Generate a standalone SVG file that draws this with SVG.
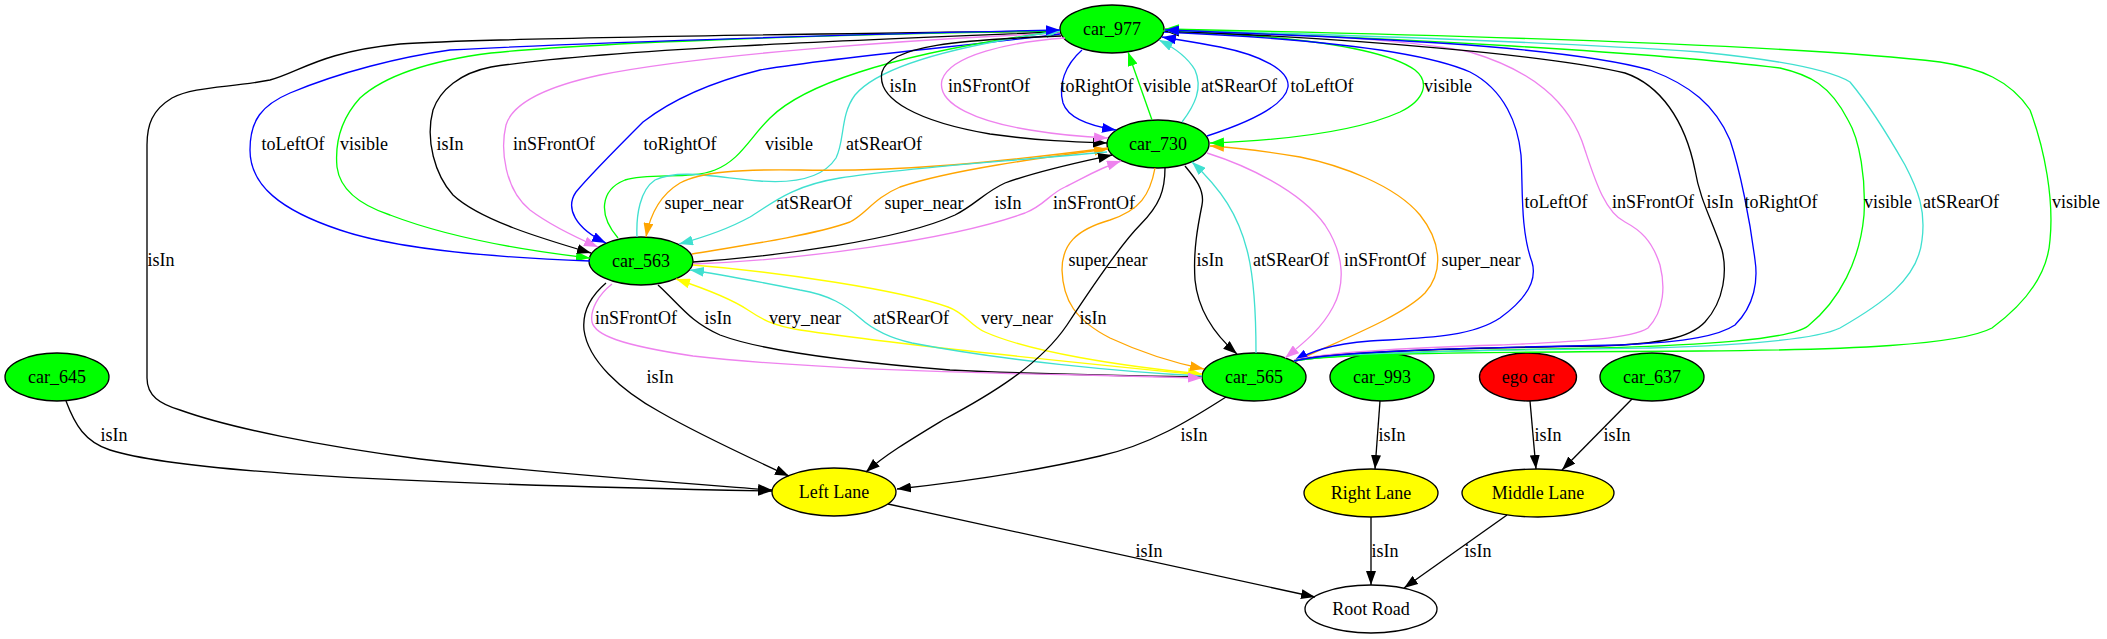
<svg xmlns="http://www.w3.org/2000/svg" width="2107" height="639" viewBox="0 0 2107 639">
<style>
.n ellipse{stroke:#000;stroke-width:1.33}
.gr{fill:#00ff00}.rd{fill:#ff0000}.yl{fill:#ffff00}.wh{fill:#fff}
text{font-family:"Liberation Serif","Times New Roman",serif;font-size:18px;text-anchor:middle;fill:#000}
.e path{fill:none;stroke-width:1.33}
.k{stroke:#000;marker-end:url(#ak)}
.b{stroke:#0000ff;marker-end:url(#ab)}
.g{stroke:#00ff00;marker-end:url(#ag)}
.v{stroke:#ee82ee;marker-end:url(#av)}
.c{stroke:#40e0d0;marker-end:url(#ac)}
.o{stroke:#ffa500;marker-end:url(#ao)}
.y{stroke:#ffff00;marker-end:url(#ay)}
</style>
<defs>
<marker id="ak" viewBox="0 0 14 10" refX="14" refY="5" markerWidth="14" markerHeight="10" markerUnits="userSpaceOnUse" orient="auto"><path d="M0,0L14,5L0,10z" fill="#000"/></marker>
<marker id="ab" viewBox="0 0 14 10" refX="14" refY="5" markerWidth="14" markerHeight="10" markerUnits="userSpaceOnUse" orient="auto"><path d="M0,0L14,5L0,10z" fill="#0000ff"/></marker>
<marker id="ag" viewBox="0 0 14 10" refX="14" refY="5" markerWidth="14" markerHeight="10" markerUnits="userSpaceOnUse" orient="auto"><path d="M0,0L14,5L0,10z" fill="#00ff00"/></marker>
<marker id="av" viewBox="0 0 14 10" refX="14" refY="5" markerWidth="14" markerHeight="10" markerUnits="userSpaceOnUse" orient="auto"><path d="M0,0L14,5L0,10z" fill="#ee82ee"/></marker>
<marker id="ac" viewBox="0 0 14 10" refX="14" refY="5" markerWidth="14" markerHeight="10" markerUnits="userSpaceOnUse" orient="auto"><path d="M0,0L14,5L0,10z" fill="#40e0d0"/></marker>
<marker id="ao" viewBox="0 0 14 10" refX="14" refY="5" markerWidth="14" markerHeight="10" markerUnits="userSpaceOnUse" orient="auto"><path d="M0,0L14,5L0,10z" fill="#ffa500"/></marker>
<marker id="ay" viewBox="0 0 14 10" refX="14" refY="5" markerWidth="14" markerHeight="10" markerUnits="userSpaceOnUse" orient="auto"><path d="M0,0L14,5L0,10z" fill="#ffff00"/></marker>
</defs>
<rect width="2107" height="639" fill="#fff"/>
<g id="nodes">
<g id="node-car_977" class="n"><ellipse class="gr" cx="1112" cy="29" rx="52" ry="24"/><text x="1112" y="35">car_977</text></g>
<g id="node-car_730" class="n"><ellipse class="gr" cx="1158" cy="144" rx="51" ry="24"/><text x="1158" y="150">car_730</text></g>
<g id="node-car_563" class="n"><ellipse class="gr" cx="641" cy="261" rx="52" ry="24"/><text x="641" y="267">car_563</text></g>
<g id="node-car_565" class="n"><ellipse class="gr" cx="1254" cy="377" rx="52" ry="24"/><text x="1254" y="383">car_565</text></g>
<g id="node-car_993" class="n"><ellipse class="gr" cx="1382" cy="377" rx="52" ry="24"/><text x="1382" y="383">car_993</text></g>
<g id="node-ego_car" class="n"><ellipse class="rd" cx="1528" cy="377" rx="48.5" ry="24"/><text x="1528" y="383">ego car</text></g>
<g id="node-car_637" class="n"><ellipse class="gr" cx="1652" cy="377" rx="52" ry="24"/><text x="1652" y="383">car_637</text></g>
<g id="node-car_645" class="n"><ellipse class="gr" cx="57" cy="377" rx="52" ry="24"/><text x="57" y="383">car_645</text></g>
<g id="node-left_lane" class="n"><ellipse class="yl" cx="834" cy="492" rx="62" ry="24"/><text x="834" y="498">Left Lane</text></g>
<g id="node-right_lane" class="n"><ellipse class="yl" cx="1371" cy="493" rx="67" ry="24"/><text x="1371" y="499">Right Lane</text></g>
<g id="node-middle_lane" class="n"><ellipse class="yl" cx="1538" cy="493" rx="76" ry="24"/><text x="1538" y="499">Middle Lane</text></g>
<g id="node-root_road" class="n"><ellipse class="wh" cx="1371" cy="609" rx="66" ry="24"/><text x="1371" y="615">Root Road</text></g>
</g>
<g id="connectors" class="e">
<g id="e1"><path class="k" d="M1060,31 C800,34 480,38 400,44 C320,52 300,72 270,80 C230,88 195,86 172,98 C152,110 147,125 147,145 L147,378 C147,396 160,404 180,410 C230,428 320,446 420,459 C550,474 680,483 772,490"/><text x="161" y="266">isIn</text></g>
<g id="e3"><path class="g" d="M1060,31 C850,34 600,42 491,53 C420,62 380,80 360,98 C340,120 335,145 337,167 C340,190 360,205 390,215 C450,238 520,250 590,258"/><text x="364" y="150">visible</text></g>
<g id="e4"><path class="k" d="M1060,32 C850,40 600,50 491,67 C460,73 440,90 433,110 C425,140 435,175 453,195 C480,220 540,238 591,253"/><text x="450" y="150">isIn</text></g>
<g id="e5"><path class="v" d="M1060,33 C900,40 700,55 600,75 C540,88 512,105 506,125 C500,150 505,190 530,210 C550,225 575,237 598,247"/><text x="554" y="150">inSFrontOf</text></g>
<g id="e6"><path class="b" d="M1060,34 C980,45 850,55 760,70 C700,85 665,105 643,122 C620,145 590,175 576,192 C565,208 575,228 606,243"/><text x="680" y="150">toRightOf</text></g>
<g id="e7"><path class="g" d="M618,238 C598,215 600,190 625,180 C650,172 690,180 715,170 C740,160 748,140 770,118 C800,88 880,55 1060,31"/><text x="789" y="150">visible</text></g>
<g id="e8"><path class="c" d="M637,237 C636,215 640,190 655,180 C680,168 720,178 760,181 C800,184 825,175 836,158 C845,140 840,115 855,95 C880,65 960,45 1060,31"/><text x="884" y="150">atSRearOf</text></g>
<g id="e2"><path class="b" d="M590,261 C480,257 390,247 340,230 C280,210 250,185 250,150 C250,120 262,105 290,93 C340,72 400,57 450,50 C600,42 900,33 1060,30"/><text x="293" y="150">toLeftOf</text></g>
<g id="e9"><path class="o" d="M1108,148 C1000,162 900,172 800,170 C740,169 700,172 680,183 C660,195 650,215 646,237"/><text x="704" y="209">super_near</text></g>
<g id="e10"><path class="o" d="M692,254 C740,246 810,236 850,222 C866,214 874,198 900,187 C950,170 1040,158 1108,149"/><text x="924" y="209">super_near</text></g>
<g id="e11"><path class="c" d="M1107,152 C1000,162 900,168 840,178 C790,186 770,205 750,217 C730,228 705,237 679,244"/><text x="814" y="209">atSRearOf</text></g>
<g id="e12"><path class="k" d="M693,262 C780,256 900,240 955,215 C975,205 985,192 1005,183 C1040,170 1080,162 1112,155"/><text x="1008" y="209">isIn</text></g>
<g id="e13"><path class="v" d="M693,264 C800,260 950,240 1025,213 C1045,205 1048,195 1065,187 C1085,177 1100,168 1121,161"/><text x="1094" y="209">inSFrontOf</text></g>
<g id="e17"><path class="k" d="M658,285 C680,305 690,322 720,335 C760,350 850,362 950,370 C1050,375 1150,376 1202,377"/><text x="718" y="324">isIn</text></g>
<g id="e14"><path class="y" d="M693,265 C780,272 900,290 948,307 C965,313 970,325 985,332 C1030,352 1120,366 1202,374"/><text x="1017" y="324">very_near</text></g>
<g id="e15"><path class="y" d="M1202,375 C1100,365 900,345 800,330 C770,325 760,318 748,310 C730,298 700,287 676,279"/><text x="805" y="324">very_near</text></g>
<g id="e16"><path class="c" d="M1202,376 C1120,372 1000,360 912,343 C885,337 870,327 860,318 C845,305 830,295 800,290 C760,282 720,274 690,270"/><text x="911" y="324">atSRearOf</text></g>
<g id="e20"><path class="o" d="M1155,168 C1150,195 1140,210 1110,220 C1075,230 1062,245 1062,270 C1063,300 1075,320 1110,338 C1140,352 1170,362 1204,369"/><text x="1108" y="266">super_near</text></g>
<g id="e18"><path class="v" d="M612,284 C598,295 590,310 592,322 C595,335 620,345 693,356 C780,366 900,372 1083,375 C1130,376 1170,377 1202,378"/><text x="636" y="324">inSFrontOf</text></g>
<g id="e19"><path class="k" d="M606,283 C592,295 582,310 584,330 C588,360 620,390 660,412 C700,435 750,458 789,476"/><text x="660" y="383">isIn</text></g>
<g id="e21"><path class="k" d="M1165,168 C1165,190 1160,205 1140,225 C1120,245 1090,290 1067,325 C1040,365 990,395 943,420 C910,440 885,455 866,472"/><text x="1093" y="324">isIn</text></g>
<g id="e22"><path class="k" d="M1185,166 C1195,178 1205,190 1202,205 C1198,225 1193,250 1195,280 C1198,310 1215,335 1237,354"/><text x="1210" y="266">isIn</text></g>
<g id="e23"><path class="c" d="M1256,353 C1256,320 1255,280 1247,250 C1238,215 1222,190 1192,162"/><text x="1291" y="266">atSRearOf</text></g>
<g id="e24"><path class="v" d="M1207,153 C1245,165 1300,190 1325,225 C1345,255 1345,285 1333,307 C1322,328 1305,342 1285,358"/><text x="1385" y="266">inSFrontOf</text></g>
<g id="e25"><path class="o" d="M1294,362 C1340,340 1400,318 1425,293 C1445,270 1440,240 1420,215 C1395,185 1340,165 1300,157 C1270,152 1245,148 1210,146"/><text x="1481" y="266">super_near</text></g>
<g id="e26"><path class="k" d="M1061,36 C960,40 890,45 882,72 C876,100 920,122 990,134 C1040,141 1075,142 1107,143"/><text x="903" y="92">isIn</text></g>
<g id="e27"><path class="v" d="M1065,38 C1010,42 950,55 942,80 C936,105 980,122 1030,130 C1060,135 1085,137 1108,138"/><text x="989" y="92">inSFrontOf</text></g>
<g id="e28"><path class="b" d="M1082,50 C1065,65 1058,85 1063,103 C1068,118 1090,126 1116,130"/><text x="1097" y="92">toRightOf</text></g>
<g id="e29"><path class="g" d="M1152,120 C1145,100 1138,80 1128,52"/><text x="1167" y="92">visible</text></g>
<g id="e30"><path class="c" d="M1182,122 C1195,105 1203,88 1195,70 C1188,58 1175,48 1159,40"/><text x="1239" y="92">atSRearOf</text></g>
<g id="e31"><path class="b" d="M1207,136 C1250,122 1285,105 1288,87 C1290,70 1260,55 1220,47 C1200,43 1180,40 1162,37"/><text x="1322" y="92">toLeftOf</text></g>
<g id="e32"><path class="g" d="M1163,31 C1280,35 1380,45 1415,70 C1430,82 1425,100 1400,112 C1360,130 1290,140 1210,143"/><text x="1448" y="92">visible</text></g>
<g id="e33"><path class="b" d="M1164,32 C1300,38 1420,50 1470,72 C1505,90 1518,125 1521,155 C1523,185 1520,230 1532,262 C1538,282 1525,300 1500,318 C1470,338 1420,338 1370,341 C1330,344 1310,352 1294,361"/><text x="1556" y="208">toLeftOf</text></g>
<g id="e34"><path class="v" d="M1294,360 C1330,352 1400,348 1500,345 C1560,342 1630,340 1648,328 C1665,310 1665,285 1660,265 C1652,240 1640,230 1625,222 C1605,212 1595,180 1585,150 C1570,100 1530,70 1470,52 C1400,38 1280,33 1165,31"/><text x="1653" y="208">inSFrontOf</text></g>
<g id="e35"><path class="k" d="M1294,361 C1330,352 1450,348 1600,346 C1660,344 1690,338 1705,322 C1725,300 1727,270 1722,250 C1712,220 1700,200 1695,170 C1685,120 1660,85 1625,73 C1550,55 1350,38 1165,31"/><text x="1720" y="208">isIn</text></g>
<g id="e37"><path class="g" d="M1294,361 C1340,352 1500,350 1600,348 C1700,345 1790,340 1808,326 C1840,300 1860,260 1864,215 C1866,180 1860,140 1848,120 C1830,85 1810,75 1780,68 C1650,52 1400,38 1165,30"/><text x="1888" y="208">visible</text></g>
<g id="e38"><path class="c" d="M1294,361 C1340,352 1500,350 1650,348 C1750,345 1820,338 1840,328 C1880,305 1918,280 1922,240 C1926,210 1918,190 1905,165 C1885,130 1865,100 1850,82 C1830,70 1780,60 1700,52 C1550,42 1350,35 1165,30"/><text x="1961" y="208">atSRearOf</text></g>
<g id="e39"><path class="g" d="M1294,361 C1340,353 1500,352 1700,351 C1850,350 1960,345 1992,328 C2030,300 2048,270 2050,240 C2054,200 2045,150 2030,110 C2010,80 1980,68 1940,62 C1800,45 1450,35 1165,29"/><text x="2076" y="208">visible</text></g>
<g id="e36"><path class="b" d="M1294,361 C1330,352 1450,348 1620,345 C1690,342 1720,335 1735,325 C1755,305 1758,280 1755,260 C1750,220 1740,170 1730,140 C1715,105 1690,85 1650,70 C1560,45 1350,37 1165,30"/><text x="1781" y="208">toRightOf</text></g>
<g id="e40"><path class="k" d="M66,401 C75,425 85,442 110,450 C180,472 400,484 772,491"/><text x="114" y="441">isIn</text></g>
<g id="e41"><path class="k" d="M1226,397 C1190,420 1150,445 1100,456 C1040,470 960,482 897,489"/><text x="1194" y="441">isIn</text></g>
<g id="e42"><path class="k" d="M1380,401 L1375,469"/><text x="1392" y="441">isIn</text></g>
<g id="e43"><path class="k" d="M1530,401 L1536,469"/><text x="1548" y="441">isIn</text></g>
<g id="e44"><path class="k" d="M1632,399 L1562,470"/><text x="1617" y="441">isIn</text></g>
<g id="e45"><path class="k" d="M888,504 L1315,597"/><text x="1149" y="557">isIn</text></g>
<g id="e46"><path class="k" d="M1371,517 L1371,585"/><text x="1385" y="557">isIn</text></g>
<g id="e47"><path class="k" d="M1507,515 L1404,588"/><text x="1478" y="557">isIn</text></g>
</g>
</svg>
